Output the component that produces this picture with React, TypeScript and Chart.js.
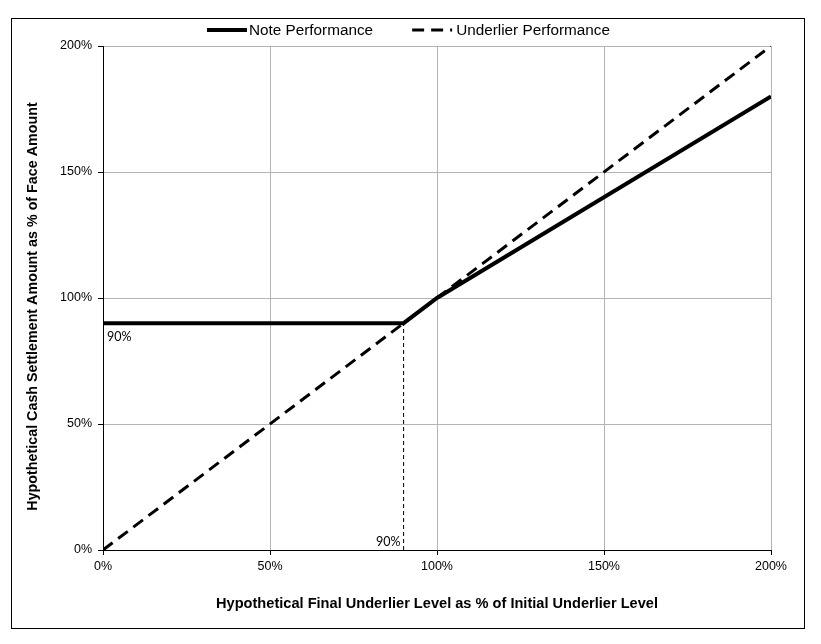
import React, { useEffect, useRef } from "react";
import { Chart, registerables } from "chart.js";

Chart.register(...registerables);

const noteX = [0, 90, 100, 200];
const noteY = [90, 90, 100, 180];
const underX = [0, 200];
const underY = [0, 200];
const strikeX = [90, 90];
const strikeY = [0, 90];
const labelNames = ["Note Performance", "Underlier Performance"];
const annoX = [0, 90];
const annoY = [90, 0];
const annoText = ["90%", "90%"];
const axisMin = 0;
const axisMax = 200;
const axisStep = 50;
const xTitle = "Hypothetical Final Underlier Level as % of Initial Underlier Level";
const yTitle = "Hypothetical Cash Settlement Amount as % of Face Amount";

const FONT = "'Liberation Sans', Arial, sans-serif";

const framePlugin = {
  id: "frame",
  beforeDraw(chart: any) {
    const ctx = chart.ctx;
    ctx.save();
    ctx.fillStyle = "#fff";
    ctx.fillRect(0, 0, chart.width, chart.height);
    ctx.strokeStyle = "#000";
    ctx.lineWidth = 1;
    ctx.strokeRect(11.5, 18.5, 793, 610);
    ctx.restore();
  },
};

const legendPlugin = {
  id: "customLegend",
  afterDraw(chart: any) {
    const ctx = chart.ctx;
    ctx.save();
    ctx.font = "15.3px " + FONT;
    const ds = chart.data.datasets;
    const lineLen = 40;
    const textGap = [2, 4];
    const itemGap = 39;
    const widths = [0, 1].map((i) => ctx.measureText(labelNames[i]).width);
    const total = lineLen * 2 + textGap[0] + textGap[1] + widths[0] + widths[1] + itemGap;
    let x = 408.5 - total / 2;
    const y = 30;
    for (let i = 0; i < 2; i++) {
      const d = ds[i];
      ctx.beginPath();
      ctx.strokeStyle = d.borderColor;
      ctx.lineWidth = d.borderWidth;
      ctx.setLineDash(d.borderDash || []);
      ctx.moveTo(x, y);
      ctx.lineTo(x + lineLen, y);
      ctx.stroke();
      ctx.setLineDash([]);
      x += lineLen + textGap[i];
      ctx.fillStyle = "#000";
      ctx.textAlign = "left";
      ctx.textBaseline = "middle";
      ctx.fillText(labelNames[i], x, y + 1);
      x += widths[i] + itemGap;
    }
    ctx.restore();
  },
};

const titlePlugin = {
  id: "yTitle",
  afterDraw(chart: any) {
    const ctx = chart.ctx;
    const area = chart.chartArea;
    ctx.save();
    ctx.font = "bold 14.3px " + FONT;
    ctx.fillStyle = "#000";
    ctx.translate(33.5, (area.top + area.bottom) / 2 + 8.5);
    ctx.rotate(-Math.PI / 2);
    ctx.textAlign = "center";
    ctx.textBaseline = "middle";
    ctx.fillText(yTitle, 0, 0);
    ctx.restore();
  },
};

const annoPlugin = {
  id: "anno",
  afterDatasetsDraw(chart: any) {
    const ctx = chart.ctx;
    const xs = chart.scales.x;
    const ys = chart.scales.y;
    ctx.save();
    ctx.font = "12.5px Lato, 'Open Sans', sans-serif";
    ctx.fillStyle = "#000";
    let px = xs.getPixelForValue(annoX[0]);
    let py = ys.getPixelForValue(annoY[0]);
    ctx.textAlign = "left";
    ctx.textBaseline = "top";
    ctx.fillText(annoText[0], px + 4, py + 8);
    px = xs.getPixelForValue(annoX[1]);
    py = ys.getPixelForValue(annoY[1]);
    ctx.textAlign = "right";
    ctx.textBaseline = "bottom";
    ctx.fillText(annoText[1], px - 3, py - 2);
    ctx.restore();
  },
};

export default function App() {
  const ref = useRef<HTMLCanvasElement>(null);
  useEffect(() => {
    document.body.style.margin = "0";
    const tick = {
      color: "#000",
      font: { family: FONT, size: 12.5 },
      callback: (v: any) => v + "%",
      stepSize: axisStep,
    };
    const chart = new Chart(ref.current as HTMLCanvasElement, {
      type: "line",
      data: {
        datasets: [
          {
            label: labelNames[0],
            data: noteX.map((x, i) => ({ x, y: noteY[i] })),
            borderColor: "#000",
            backgroundColor: "#000",
            borderWidth: 4,
            pointRadius: 0,
            tension: 0,
          },
          {
            label: labelNames[1],
            data: underX.map((x, i) => ({ x, y: underY[i] })),
            borderColor: "#000",
            backgroundColor: "#000",
            borderWidth: 3,
            borderDash: [12, 7],
            pointRadius: 0,
          },
          {
            label: "strike",
            data: strikeX.map((x, i) => ({ x, y: strikeY[i] })),
            borderColor: "#000",
            borderWidth: 1,
            borderDash: [4, 3],
            pointRadius: 0,
          },
        ],
      },
      options: {
        responsive: false,
        animation: false,
        layout: { padding: { left: 0, right: 50, top: 46, bottom: 0 } },
        plugins: {
          tooltip: { enabled: false },
          legend: { display: false },
        },
        scales: {
          x: {
            type: "linear",
            min: axisMin,
            max: axisMax,
            ticks: { ...tick, padding: 4 },
            grid: { color: "#b4b4b4", tickColor: "#000", tickLength: 5 },
            border: { color: "#000", width: 1 },
            title: {
              display: true,
              text: xTitle,
              color: "#000",
              font: { family: FONT, size: 14.6, weight: "bold" },
              padding: { top: 0, bottom: 31 },
            },
            afterFit: (s: any) => {
              s.height = 94;
            },
          },
          y: {
            type: "linear",
            min: axisMin,
            max: axisMax,
            ticks: { ...tick, padding: 6 },
            grid: { color: "#b4b4b4", tickColor: "#000", tickLength: 5 },
            border: { color: "#000", width: 1 },
            afterFit: (s: any) => {
              s.width = 103;
            },
          },
        },
      },
      plugins: [framePlugin, annoPlugin, legendPlugin, titlePlugin],
    } as any);
    return () => chart.destroy();
  }, []);
  return <canvas ref={ref} width={821} height={644} style={{ display: "block" }} />;
}
